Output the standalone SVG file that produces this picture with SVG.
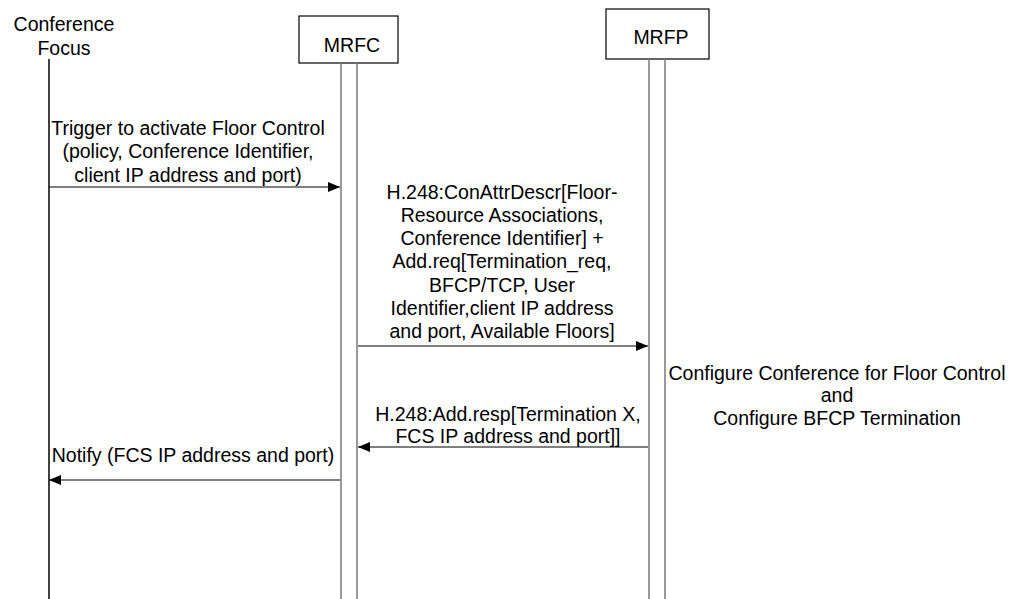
<svg xmlns="http://www.w3.org/2000/svg" width="1010" height="599" viewBox="0 0 1010 599">
<style>
text{font-family:"Liberation Sans",Arial,sans-serif;font-size:19.5px;fill:#000;text-anchor:middle}
.box{fill:#fff;stroke:#000;stroke-width:1.2}
.life{stroke:#777;stroke-width:1.5;fill:none}
.lifeb{stroke:#000;stroke-width:1.5;fill:none}
.msg{stroke:#000;stroke-width:1.2;fill:none;marker-end:url(#ah)}
</style>
<defs>
<marker id="ah" markerWidth="12" markerHeight="10" refX="12" refY="5" orient="auto" markerUnits="userSpaceOnUse">
<path d="M0,0 L12,5 L0,10 Z" fill="#000"/>
</marker>
</defs>
<rect width="1010" height="599" fill="#fff"/>
<g id="focus">
<text x="64" y="31">Conference</text>
<text x="64" y="55">Focus</text>
<line class="lifeb" x1="49" y1="59" x2="49" y2="599"/>
</g>
<g id="mrfc">
<rect class="box" x="299" y="16" width="99" height="47"/>
<text x="352" y="52">MRFC</text>
<line class="life" x1="341" y1="63" x2="341" y2="599"/>
<line class="life" x1="357" y1="63" x2="357" y2="599"/>
</g>
<g id="mrfp">
<rect class="box" x="606" y="9" width="103" height="50"/>
<text x="661" y="44">MRFP</text>
<line class="life" x1="649" y1="59" x2="649" y2="599"/>
<line class="life" x1="665" y1="59" x2="665" y2="599"/>
</g>
<g id="connectors">
<line class="msg" x1="49" y1="187" x2="340" y2="187"/>
<line class="msg" x1="358" y1="346" x2="648" y2="346"/>
<line class="msg" x1="648" y1="447" x2="358" y2="447"/>
<line class="msg" x1="340" y1="480" x2="49" y2="480"/>
</g>
<g id="labels">
<text x="188" y="135">Trigger to activate Floor Control</text>
<text x="188" y="158">(policy, Conference Identifier,</text>
<text x="188" y="182">client IP address and port)</text>
<text x="502" y="199">H.248:ConAttrDescr[Floor-</text>
<text x="502" y="222">Resource Associations,</text>
<text x="502" y="245">Conference Identifier] +</text>
<text x="502" y="268">Add.req[Termination_req,</text>
<text x="502" y="292">BFCP/TCP, User</text>
<text x="502" y="315">Identifier,client IP address</text>
<text x="502" y="338">and port, Available Floors]</text>
<text x="837" y="380">Configure Conference for Floor Control</text>
<text x="837" y="402">and</text>
<text x="837" y="425">Configure BFCP Termination</text>
<text x="508" y="421">H.248:Add.resp[Termination X,</text>
<text x="508" y="443">FCS IP address and port]]</text>
<text x="193" y="462">Notify (FCS IP address and port)</text>
</g>
</svg>
